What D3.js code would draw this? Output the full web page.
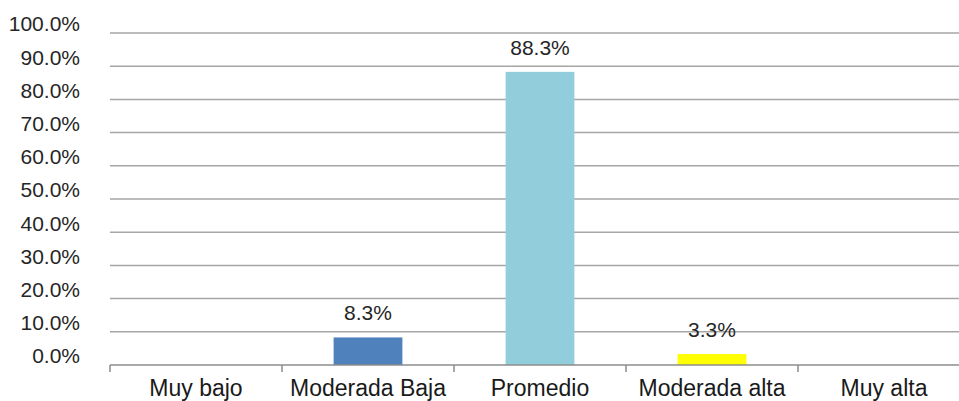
<!DOCTYPE html>
<html>
<head>
<meta charset="utf-8">
<script src="https://cdn.jsdelivr.net/npm/d3@7"></script>
<style>
  html, body { margin: 0; padding: 0; background: #fff; }
  svg { display: block; font-family: "Liberation Sans", Arial, sans-serif; }
</style>
</head>
<body>
<svg id="chart" width="959" height="401"></svg>
<script>
// Distribution by level (percent of respondents)
const categories = ["Muy bajo", "Moderada Baja", "Promedio", "Moderada alta", "Muy alta"];
const values = [0, 8.3, 88.3, 3.3, 0];
const barColors = ["#4F81BD", "#4F81BD", "#92CDDC", "#FFFF00", "#4F81BD"];
const yTicks = [0, 10, 20, 30, 40, 50, 60, 70, 80, 90, 100];

const svg = d3.select("#chart");

const x = d3.scaleBand()
  .domain(categories)
  .range([110, 970])
  .paddingInner(0.6)
  .paddingOuter(0.3);

const y = d3.scaleLinear().domain([0, 100]).range([365, 33]);

const fmt = v => v.toFixed(1) + "%";

// horizontal gridlines
svg.append("g")
  .selectAll("line")
  .data(yTicks.filter(t => t > 0))
  .join("line")
  .attr("x1", 110).attr("x2", 970)
  .attr("y1", d => y(d)).attr("y2", d => y(d))
  .attr("stroke", "#a6a6a6")
  .attr("stroke-width", 1.5);

// y tick labels
svg.append("g")
  .selectAll("text")
  .data(yTicks)
  .join("text")
  .attr("x", 80)
  .attr("y", d => y(d) - 9)
  .attr("dy", "0.35em")
  .attr("text-anchor", "end")
  .attr("font-size", 21)
  .attr("fill", "#262626")
  .text(fmt);

// bars
svg.append("g")
  .selectAll("rect")
  .data(categories)
  .join("rect")
  .attr("x", d => x(d))
  .attr("width", x.bandwidth())
  .attr("y", (d, i) => y(values[i]))
  .attr("height", (d, i) => y(0) - y(values[i]))
  .attr("fill", (d, i) => barColors[i]);

// value labels on non-empty bars
svg.append("g")
  .selectAll("text")
  .data(categories.map((c, i) => ({ c, v: values[i] })).filter(d => d.v > 0))
  .join("text")
  .attr("x", d => x(d.c) + x.bandwidth() / 2)
  .attr("y", d => y(d.v) - 17)
  .attr("text-anchor", "middle")
  .attr("font-size", 21)
  .attr("fill", "#262626")
  .text(d => d.v.toFixed(1) + "%");

// category axis
const xAxis = svg.append("g");
xAxis.append("line")
  .attr("x1", 110).attr("x2", 970)
  .attr("y1", y(0)).attr("y2", y(0))
  .attr("stroke", "#8c8c8c")
  .attr("stroke-width", 1.5);

const step = x.step();
const bounds = d3.range(categories.length + 1).map(i => 110 + i * step);
xAxis.selectAll("line.tick")
  .data(bounds)
  .join("line")
  .attr("class", "tick")
  .attr("x1", d => d).attr("x2", d => d)
  .attr("y1", y(0)).attr("y2", y(0) + 7)
  .attr("stroke", "#8c8c8c")
  .attr("stroke-width", 1.5);

xAxis.selectAll("text")
  .data(categories)
  .join("text")
  .attr("x", d => x(d) + x.bandwidth() / 2)
  .attr("y", 396)
  .attr("text-anchor", "middle")
  .attr("font-size", 23)
  .attr("fill", "#1a1a1a")
  .text(d => d);
</script>
</body>
</html>
